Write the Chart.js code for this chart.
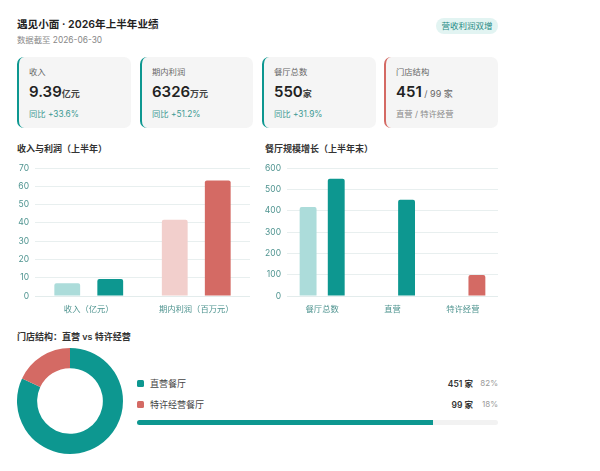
<!DOCTYPE html>
<html>
<head>
<meta charset="utf-8">
<script src="https://cdn.jsdelivr.net/npm/chart.js@4"></script>
<style>
body{margin:0;background:#fff;font-family:Inter,"Noto Sans CJK SC",sans-serif;color:#222;}
#page{position:relative;width:600px;height:471px;overflow:hidden;}
.abs{position:absolute;white-space:nowrap;}
.card{position:absolute;top:57px;height:71px;box-sizing:border-box;background:#f5f5f5;border-radius:7px;border-left:2px solid #0d9790;}
.card.red{border-left-color:#d46a64;}
.card .lbl{position:absolute;left:10px;top:8px;font-size:8.3px;color:#666;}
.card .val{position:absolute;left:10px;top:25px;font-size:15px;font-weight:600;color:#222;line-height:20px;white-space:nowrap;}
.card .val small{font-size:9px;font-weight:600;color:#444;}
.card .val small.lite{font-weight:400;color:#666;}
.card .sub{position:absolute;left:10px;top:50px;font-size:8.3px;color:#3d9a94;white-space:nowrap;}
.card .sub.grey{color:#888;}
.head{font-size:9px;font-weight:600;color:#333;}
canvas{position:absolute;}
.sq{position:absolute;left:137px;width:7px;height:7px;border-radius:1.5px;}
.leg{font-size:9px;color:#444;}
.num{font-size:8.5px;font-weight:600;color:#333;text-align:right;}
.pct{font-size:8px;color:#999;text-align:right;}
</style>
</head>
<body>
<div id="page">
  <div class="abs" style="left:17px;top:17px;font-size:10.6px;font-weight:600;line-height:16px;">遇见小面 · 2026年上半年业绩</div>
  <div class="abs" style="left:17px;top:35px;font-size:8.4px;color:#888;line-height:11px;">数据截至 2026-06-30</div>
  <div class="abs" style="left:436px;top:18px;width:62px;height:16px;border-radius:8px;background:#e2f4f2;color:#1f8a84;font-size:8.5px;line-height:16px;text-align:center;">营收利润双增</div>

  <div class="card" style="left:17px;width:114px;"><div class="lbl">收入</div><div class="val">9.39<small>亿元</small></div><div class="sub">同比 +33.6%</div></div>
  <div class="card" style="left:140px;width:113px;"><div class="lbl">期内利润</div><div class="val">6326<small>万元</small></div><div class="sub">同比 +51.2%</div></div>
  <div class="card" style="left:262px;width:114px;"><div class="lbl">餐厅总数</div><div class="val">550<small>家</small></div><div class="sub">同比 +31.9%</div></div>
  <div class="card red" style="left:384px;width:114px;"><div class="lbl">门店结构</div><div class="val">451<small class="lite"> / 99 家</small></div><div class="sub grey">直营 / 特许经营</div></div>

  <div class="abs head" style="left:17px;top:142px;">收入与利润（上半年）</div>
  <div class="abs head" style="left:265px;top:142px;">餐厅规模增长（上半年末）</div>
  <canvas id="revenue_chart" width="240" height="157" style="left:10px;top:157px;"></canvas>
  <canvas id="store_chart" width="240" height="157" style="left:258px;top:157px;"></canvas>

  <div class="abs head" style="left:17px;top:330px;">门店结构：直营 vs 特许经营</div>
  <canvas id="mix_chart" width="112" height="112" style="left:14px;top:345px;"></canvas>

  <div class="sq" style="top:380px;background:#0d9790;"></div>
  <div class="abs leg" style="left:150px;top:377px;">直营餐厅</div>
  <div class="sq" style="top:401px;background:#d46a64;"></div>
  <div class="abs leg" style="left:150px;top:398px;">特许经营餐厅</div>
  <div class="abs num" style="right:127px;top:377px;">451 家</div>
  <div class="abs pct" style="right:102px;top:378px;">82%</div>
  <div class="abs num" style="right:127px;top:398px;">99 家</div>
  <div class="abs pct" style="right:102px;top:399px;">18%</div>
  <div class="abs" style="left:137px;top:420px;width:361px;height:5px;border-radius:3px;background:#f2f2f2;overflow:hidden;"><div style="width:82%;height:5px;background:#0d9790;"></div></div>
</div>

<script>
var teal = '#0d9790';
var tealLight = '#acdcda';
var red = '#d46a64';
var redLight = '#f2cfcc';

var revenueLabels = ['收入（亿元）', '期内利润（百万元）'];
var revenuePrior = [7.03, 41.8];
var revenueCurrent = [9.39, 63.26];
var revenueTicks = [0, 10, 20, 30, 40, 50, 60, 70];

var storeLabels = ['餐厅总数', '直营', '特许经营'];
var storePrior = [417, null, null];
var storeCurrent = [550, 451, 99];
var storeTicks = [0, 100, 200, 300, 400, 500, 600];

var mixLabels = ['直营餐厅', '特许经营餐厅'];
var mixValues = [451, 99];

Chart.defaults.font.family = 'Inter, "Noto Sans CJK SC", sans-serif';
Chart.defaults.responsive = false;
Chart.defaults.animation = false;
Chart.defaults.plugins.legend.display = false;
Chart.defaults.plugins.tooltip.enabled = false;

function barOptions(maxValue, stepSize, axisWidth){
  return {
    layout: {padding: {top: 1, right: 0, left: 0, bottom: 0}},
    scales: {
      x: {
        grid: {display: false},
        border: {color: '#e3ecec'},
        ticks: {color: '#4f9490', font: {size: 8.3}, maxRotation: 0, padding: 0}
      },
      y: {
        min: 0,
        max: maxValue,
        afterFit: function(axis){ axis.width = axisWidth; },
        grid: {color: '#e8efef', drawTicks: false},
        border: {display: false},
        ticks: {color: '#4f9490', font: {size: 8.5}, stepSize: stepSize, padding: 6}
      }
    }
  };
}

new Chart(document.getElementById('revenue_chart'), {
  type: 'bar',
  data: {
    labels: revenueLabels,
    datasets: [
      {data: revenuePrior, backgroundColor: [tealLight, redLight], borderRadius: 2, barPercentage: 0.6, categoryPercentage: 0.8},
      {data: revenueCurrent, backgroundColor: [teal, red], borderRadius: 2, barPercentage: 0.6, categoryPercentage: 0.8}
    ]
  },
  options: barOptions(revenueTicks[revenueTicks.length - 1], 10, 25)
});

new Chart(document.getElementById('store_chart'), {
  type: 'bar',
  data: {
    labels: storeLabels,
    datasets: [
      {data: storePrior, backgroundColor: [tealLight, tealLight, tealLight], borderRadius: 2, barPercentage: 0.6, categoryPercentage: 0.8},
      {data: storeCurrent, backgroundColor: [teal, teal, red], borderRadius: 2, barPercentage: 0.6, categoryPercentage: 0.8}
    ]
  },
  options: barOptions(storeTicks[storeTicks.length - 1], 100, 29)
});

new Chart(document.getElementById('mix_chart'), {
  type: 'doughnut',
  data: {
    labels: mixLabels,
    datasets: [{data: mixValues, backgroundColor: [teal, red], borderWidth: 0}]
  },
  options: {cutout: '62%', layout: {padding: 3}}
});
</script>
</body>
</html>
